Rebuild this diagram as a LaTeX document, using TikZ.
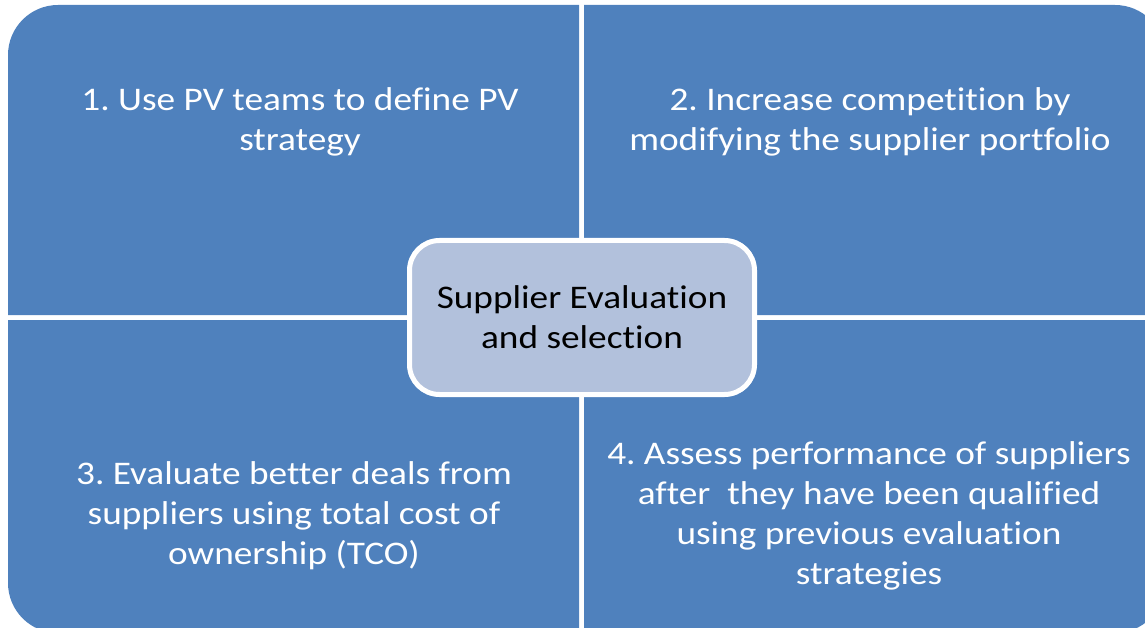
\documentclass[tikz,border=0pt]{standalone}
\usepackage{fontspec}
\setmainfont{Carlito}[Ligatures=NoCommon,FakeStretch=1.13]
\usepackage{tikz}
\definecolor{quadblue}{RGB}{79,129,189}
\definecolor{hubblue}{RGB}{178,193,220}
\frenchspacing

\begin{document}
\begin{tikzpicture}[x=1pt,y=-1pt,
    quad/.style={fill=quadblue},
    quadtext/.style={text=white,align=center,font=\fontsize{33}{40}\selectfont},
    hub/.style={draw=white,line width=5pt,fill=hubblue,rounded corners=30pt,
      minimum width=345pt,minimum height=154pt,align=center,
      font=\fontsize{33}{40}\selectfont}]
    \clip (0,0) rectangle (1145,628);
    \fill[quad] (579,5) [rounded corners=50pt] -- (8,5) [sharp corners] -- (8,315) -- (579,315) -- cycle;
    \fill[quad] (584,5) [rounded corners=50pt] -- (1165,5) [sharp corners] -- (1165,315) -- (584,315) -- cycle;
    \fill[quad] (579,320) -- (8,320) [rounded corners=50pt] -- (8,633) [sharp corners] -- (579,633) -- cycle;
    \fill[quad] (584,320) -- (1165,320) [rounded corners=50pt] -- (1165,633) [sharp corners] -- (584,633) -- cycle;
    \node[quadtext] (q1) at (300,122) {1. Use PV teams to define PV\\strategy};
    \node[quadtext] (q2) at (870,122) {2. Increase competition by\\modifying the supplier portfolio};
    \node[quadtext] (q3) at (294,516) {3. Evaluate better deals from\\suppliers using total cost of\\ownership (TCO)};
    \node[quadtext] (q4) at (869,516) {4. Assess performance of suppliers\\after~ they have been qualified\\using previous evaluation\\strategies};
    \node[hub] (center) at (582,317.5) {Supplier Evaluation\\and selection};
  \end{tikzpicture}
\end{document}
